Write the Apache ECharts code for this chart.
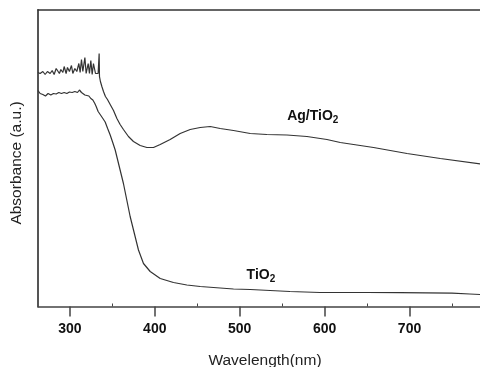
<!DOCTYPE html>
<html>
<head>
<meta charset="utf-8">
<script src="https://cdn.jsdelivr.net/npm/echarts@6/dist/echarts.min.js"></script>
<style>
  html, body { margin: 0; padding: 0; background: #fff; }
  #chart { width: 480px; height: 367px; }
</style>
</head>
<body>
<div id="chart"></div>
<script>
// wavelength (nm) / absorbance (a.u.)
const agWavelength = [262.5, 265.0, 268.2, 270.9, 273.6, 276.8, 279.2, 281.5, 283.9, 286.2, 287.7, 289.4, 291.8, 293.3, 295.6, 297.2, 299.5, 301.9, 303.5, 305.9, 308.2, 310.6, 312.1, 313.7, 315.3, 317.7, 319.2, 321.6, 323.1, 324.7, 326.3, 327.8, 330.2, 331.8, 333.3, 334.5, 334.9, 336.0, 337.7, 339.6, 341.9, 344.3, 347.5, 351.4, 355.4, 359.2, 363.1, 369.0, 374.9, 382.8, 390.7, 398.5, 406.4, 418.1, 429.9, 441.7, 453.5, 465.3, 477.0, 492.7, 512.4, 532.0, 555.6, 579.2, 602.7, 618.4, 657.6, 697.0, 736.2, 783.3, 800.0];
const agAbsorbance = [2.34, 2.33, 2.35, 2.32, 2.35, 2.33, 2.36, 2.32, 2.38, 2.40, 2.33, 2.37, 2.34, 2.40, 2.33, 2.39, 2.35, 2.41, 2.33, 2.38, 2.35, 2.43, 2.34, 2.47, 2.35, 2.49, 2.33, 2.43, 2.33, 2.46, 2.32, 2.43, 2.33, 2.35, 2.33, 2.53, 2.30, 2.25, 2.20, 2.15, 2.10, 2.07, 2.02, 1.96, 1.88, 1.82, 1.77, 1.70, 1.65, 1.61, 1.59, 1.59, 1.62, 1.67, 1.73, 1.77, 1.79, 1.80, 1.78, 1.76, 1.73, 1.72, 1.715, 1.70, 1.67, 1.64, 1.59, 1.53, 1.48, 1.425, 1.40];

const tioWavelength = [262.5, 265.0, 268.2, 271.3, 274.4, 277.6, 280.7, 283.9, 287.0, 290.1, 293.3, 296.5, 299.5, 302.7, 305.9, 309.0, 311.3, 313.7, 315.3, 317.7, 320.0, 322.4, 324.7, 327.1, 329.4, 331.0, 333.3, 334.9, 336.5, 338.9, 341.6, 344.5, 347.5, 350.5, 353.4, 363.1, 371.0, 380.8, 386.7, 394.6, 406.4, 422.0, 437.8, 453.5, 492.7, 512.4, 559.2, 594.5, 650.0, 688.6, 750.0, 770.9, 783.3, 800.0];
const tioAbsorbance = [2.16, 2.13, 2.12, 2.105, 2.13, 2.115, 2.13, 2.125, 2.14, 2.13, 2.14, 2.13, 2.145, 2.14, 2.15, 2.14, 2.165, 2.14, 2.15, 2.115, 2.13, 2.105, 2.08, 2.065, 2.03, 2.00, 1.95, 1.965, 1.91, 1.88, 1.845, 1.78, 1.715, 1.64, 1.565, 1.23, 0.90, 0.565, 0.43, 0.35, 0.28, 0.24, 0.215, 0.20, 0.175, 0.17, 0.15, 0.14, 0.14, 0.138, 0.133, 0.125, 0.12, 0.12];

const majorTicks = [300, 400, 500, 600, 700];
const minorTicks = [350, 450, 550, 650, 750];

// curve labels: [wavelength, absorbance]
const agLabelAt = [586, 1.90];
const tioLabelAt = [525, 0.315];

const xMin = 262.5;
const xMax = 806.5;
const font = '"Liberation Sans", Arial, sans-serif';

const chart = echarts.init(document.getElementById('chart'));

const subRich = {
  a: { fontFamily: font, fontSize: 14, fontWeight: 'bold', color: '#111', lineHeight: 18 },
  s: { fontFamily: font, fontSize: 10, fontWeight: 'bold', color: '#111', lineHeight: 11, verticalAlign: 'bottom' },
};

function curveLabel(coord, text) {
  return {
    symbol: 'circle',
    symbolSize: 1,
    silent: true,
    itemStyle: { color: 'rgba(0,0,0,0)' },
    label: { show: true, position: 'inside', formatter: text, rich: subRich },
    data: [{ coord: coord }],
  };
}

chart.setOption({
  animation: false,
  backgroundColor: '#fff',
  // plot runs past the right edge of the picture, like the cropped original
  grid: {
    left: 38,
    top: 10,
    width: 462,
    height: 296.5,
    outerBoundsMode: 'none',
  },
  xAxis: [
    {
      type: 'value',
      position: 'bottom',
      min: xMin,
      max: xMax,
      splitLine: { show: false },
      axisLine: { lineStyle: { color: '#444', width: 1.5 } },
      axisTick: {
        customValues: majorTicks,
        length: 10,
        lineStyle: { color: '#444', width: 1.5 },
      },
      axisLabel: {
        customValues: majorTicks,
        margin: 15.5,
        fontFamily: font,
        fontSize: 14,
        fontWeight: 'bold',
        color: '#111',
      },
    },
    {
      type: 'value',
      position: 'bottom',
      min: xMin,
      max: xMax,
      splitLine: { show: false },
      axisLine: { show: false },
      axisLabel: { show: false },
      axisTick: {
        customValues: minorTicks,
        inside: true,
        length: 3,
        lineStyle: { color: '#444', width: 1 },
      },
    },
    {
      type: 'value',
      position: 'top',
      min: xMin,
      max: xMax,
      splitLine: { show: false },
      axisTick: { show: false },
      axisLabel: { show: false },
      axisLine: { show: true, lineStyle: { color: '#333', width: 1.5 } },
    },
  ],
  yAxis: {
    type: 'value',
    min: 0,
    max: 2.965,
    splitLine: { show: false },
    axisTick: { show: false },
    axisLabel: { show: false },
    axisLine: { show: true, lineStyle: { color: '#555', width: 2 } },
  },
  graphic: [
    {
      type: 'text',
      x: 265,
      y: 361,
      style: {
        text: 'Wavelength(nm)',
        font: '15.5px ' + font,
        fill: '#222',
        align: 'center',
        verticalAlign: 'middle',
      },
    },
    {
      type: 'text',
      x: 17,
      y: 163,
      rotation: Math.PI / 2,
      style: {
        text: 'Absorbance (a.u.)',
        font: '15.5px ' + font,
        fill: '#222',
        align: 'center',
        verticalAlign: 'middle',
      },
    },
  ],
  series: [
    {
      name: 'Ag/TiO2',
      type: 'line',
      symbol: 'none',
      silent: true,
      lineStyle: { color: '#333', width: 1.2 },
      data: agWavelength.map((w, i) => [w, agAbsorbance[i]]),
      markPoint: curveLabel(agLabelAt, '{a|Ag/TiO}{s|2}'),
    },
    {
      name: 'TiO2',
      type: 'line',
      symbol: 'none',
      silent: true,
      lineStyle: { color: '#333', width: 1.2 },
      data: tioWavelength.map((w, i) => [w, tioAbsorbance[i]]),
      markPoint: curveLabel(tioLabelAt, '{a|TiO}{s|2}'),
    },
  ],
});
</script>
</body>
</html>
